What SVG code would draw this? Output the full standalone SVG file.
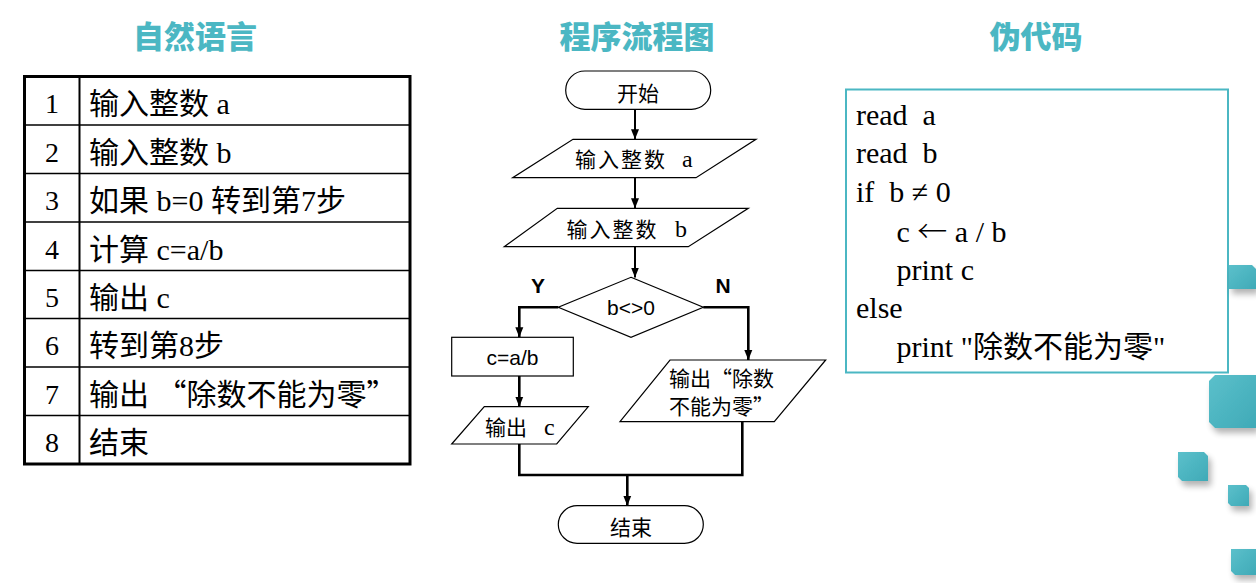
<svg xmlns="http://www.w3.org/2000/svg" width="1256" height="583" viewBox="0 0 1256 583">
<style>
.title{font-family:"Noto Sans CJK SC","Noto Sans",sans-serif;font-weight:900;font-size:31px;fill:#4BB7C3;text-anchor:middle}
.num{font-family:"Liberation Serif",serif;font-size:28px;fill:#000;text-anchor:middle}
.cell{font-family:"Liberation Serif","Noto Sans CJK SC",serif;font-size:30px;fill:#000}
.fc{font-family:"Liberation Serif","Noto Sans CJK SC",serif;font-size:21px;fill:#000}
.fl{font-family:"Liberation Serif",serif;font-size:24px;fill:#000}
.fs{font-family:"Liberation Sans","Noto Sans CJK SC",sans-serif;font-size:21px;fill:#000}
.yn{font-family:"Liberation Sans",sans-serif;font-size:21px;font-weight:700;fill:#000;text-anchor:middle}
.code{font-family:"Liberation Serif","Noto Sans CJK SC",serif;font-size:30px;fill:#000}
.q{font-family:"Noto Sans CJK SC",sans-serif}
.arr{font-family:"Noto Sans CJK SC",sans-serif;font-weight:300}
.shape{fill:#fff;stroke:#000;stroke-width:1.2}
.conn{fill:none;stroke:#000;stroke-width:2.6}
.thin{fill:none;stroke:#000;stroke-width:2}
.cube{fill:url(#cg)}
</style>
<defs>
<marker id="ah" markerUnits="userSpaceOnUse" markerWidth="10" markerHeight="10" viewBox="0 0 10 10" refX="10" refY="5" orient="auto">
<path d="M0,1 L10,5 L0,9 Z" fill="#000"/>
</marker>
<linearGradient id="cg" x1="0" y1="0" x2="1" y2="1">
<stop offset="0" stop-color="#5BC0CB"/>
<stop offset="1" stop-color="#3FAAB7"/>
</linearGradient>
<filter id="sh" x="-40%" y="-40%" width="180%" height="180%">
<feGaussianBlur in="SourceAlpha" stdDeviation="3"/>
<feOffset dx="3" dy="5"/>
<feComponentTransfer><feFuncA type="linear" slope="0.3"/></feComponentTransfer>
<feMerge><feMergeNode/><feMergeNode in="SourceGraphic"/></feMerge>
</filter>
</defs>
<rect width="1256" height="583" fill="#fff"/>

<g id="titles">
<text class="title" x="195" y="48">自然语言</text>
<text class="title" x="637" y="48">程序流程图</text>
<text class="title" x="1036" y="48">伪代码</text>
</g>

<g id="table">
<rect x="24.5" y="76.5" width="385.5" height="387.5" fill="#fff" stroke="#000" stroke-width="3"/>
<line x1="79.5" y1="76" x2="79.5" y2="464" stroke="#000" stroke-width="2"/>
<g stroke="#000" stroke-width="1.6">
<line x1="24" y1="125" x2="410" y2="125"/>
<line x1="24" y1="173.5" x2="410" y2="173.5"/>
<line x1="24" y1="222" x2="410" y2="222"/>
<line x1="24" y1="270.5" x2="410" y2="270.5"/>
<line x1="24" y1="318.5" x2="410" y2="318.5"/>
<line x1="24" y1="367" x2="410" y2="367"/>
<line x1="24" y1="415.5" x2="410" y2="415.5"/>
</g>
<text class="num" x="52" y="113">1</text>
<text class="num" x="52" y="161.5">2</text>
<text class="num" x="52" y="210">3</text>
<text class="num" x="52" y="258.5">4</text>
<text class="num" x="52" y="306.5">5</text>
<text class="num" x="52" y="355">6</text>
<text class="num" x="52" y="403.5">7</text>
<text class="num" x="52" y="452">8</text>
<text class="cell" x="89" y="114">输入整数 a</text>
<text class="cell" x="89" y="162.5">输入整数 b</text>
<text class="cell" x="89" y="211">如果 b=0 转到第7步</text>
<text class="cell" x="89" y="259.5">计算 c=a/b</text>
<text class="cell" x="89" y="307.5">输出 c</text>
<text class="cell" x="89" y="356">转到第8步</text>
<text class="cell" x="89" y="404.5">输出 <tspan class="q">“</tspan>除数不能为零<tspan class="q">”</tspan></text>
<text class="cell" x="89" y="453">结束</text>
</g>

<g id="connectors">
<line class="thin" x1="635" y1="109.5" x2="635" y2="139.3" marker-end="url(#ah)"/>
<line class="thin" x1="635" y1="177.7" x2="635" y2="208.3" marker-end="url(#ah)"/>
<line class="thin" x1="635" y1="246.7" x2="635" y2="277.5" marker-end="url(#ah)"/>
<polyline class="conn" points="558.3,307.3 519.3,307.3 519.3,337.3" marker-end="url(#ah)"/>
<line class="conn" x1="519.3" y1="376" x2="519.3" y2="406.7" marker-end="url(#ah)"/>
<polyline class="conn" points="519.3,444 519.3,475 742.3,475 742.3,421.7"/>
<polyline class="conn" points="703.3,307.3 748.3,307.3 748.3,360" marker-end="url(#ah)"/>
<line class="conn" x1="627.3" y1="475" x2="627.3" y2="505.7" marker-end="url(#ah)"/>
</g>

<g id="start">
<rect class="shape" x="565.7" y="71" width="145" height="38.3" rx="19.2"/>
<text class="fc" x="638" y="101" text-anchor="middle" font-size="22">开始</text>
</g>
<g id="input-a">
<polygon class="shape" points="573,139.3 756,139.3 696,177.7 512.7,177.7"/>
<text class="fc" x="575" y="167" letter-spacing="2">输入整数</text>
<text class="fl" x="682" y="167">a</text>
</g>
<g id="input-b">
<polygon class="shape" points="557.3,208.3 748.3,208.3 688.3,246.7 504.3,246.7"/>
<text class="fc" x="566.5" y="236.5" letter-spacing="2">输入整数</text>
<text class="fl" x="675" y="236.5">b</text>
</g>
<g id="decision">
<polygon class="shape" points="631,277.3 703.3,307.3 631,337.3 558.3,307.3"/>
<text class="fs" x="631" y="315" text-anchor="middle">b&lt;&gt;0</text>
<text class="yn" x="538" y="293">Y</text>
<text class="yn" x="723" y="293">N</text>
</g>
<g id="compute">
<rect class="shape" x="451.7" y="337.3" width="121.6" height="38.7"/>
<text class="fs" x="512.5" y="365" text-anchor="middle">c=a/b</text>
</g>
<g id="output-c">
<polygon class="shape" points="484.3,406.7 588.3,406.7 556.7,444 451.7,444"/>
<text class="fc" x="485" y="435">输出</text>
<text class="fl" x="544" y="435">c</text>
</g>
<g id="output-err">
<polygon class="shape" points="670,360 825.7,360 774.3,421.7 620,421.7"/>
<text class="fc" x="669" y="386" font-size="20.5">输出<tspan class="q">“</tspan>除数</text>
<text class="fc" x="669" y="413.5" font-size="20.5">不能为零<tspan class="q">”</tspan></text>
</g>
<g id="end">
<rect class="shape" x="558.3" y="505.7" width="145" height="37.6" rx="18.8"/>
<text class="fc" x="631" y="535" text-anchor="middle" font-size="22">结束</text>
</g>

<g id="pseudocode">
<rect x="846" y="89.5" width="382" height="283" fill="#fff" stroke="#4BB7C3" stroke-width="2"/>
<text class="code" x="856" y="124.5" xml:space="preserve">read  a</text>
<text class="code" x="856" y="163" xml:space="preserve">read  b</text>
<text class="code" x="856" y="201.7" xml:space="preserve">if  b ≠ 0</text>
<text class="code" x="896.5" y="241.5">c <tspan class="arr">←</tspan> a / b</text>
<text class="code" x="896.5" y="279.5">print c</text>
<text class="code" x="856" y="318.3">else</text>
<text class="code" x="896.5" y="357">print "除数不能为零"</text>
</g>

<g id="decor" filter="url(#sh)">
<path class="cube" d="M1229,265 L1252,265 L1256,269 L1256,289 L1229,289 Z"/>
<path class="cube" d="M1209,381 L1215,375 L1256,375 L1256,428 L1215,428 L1209,422 Z"/>
<path class="cube" d="M1178,452 L1204,452 L1208,456 L1208,481 L1182,481 L1178,477 Z"/>
<path class="cube" d="M1228,485 L1246,485 L1249,488 L1249,506 L1231,506 L1228,503 Z"/>
<path class="cube" d="M1231,549 L1256,549 L1256,575 L1235,575 L1231,571 Z"/>
</g>
</svg>
